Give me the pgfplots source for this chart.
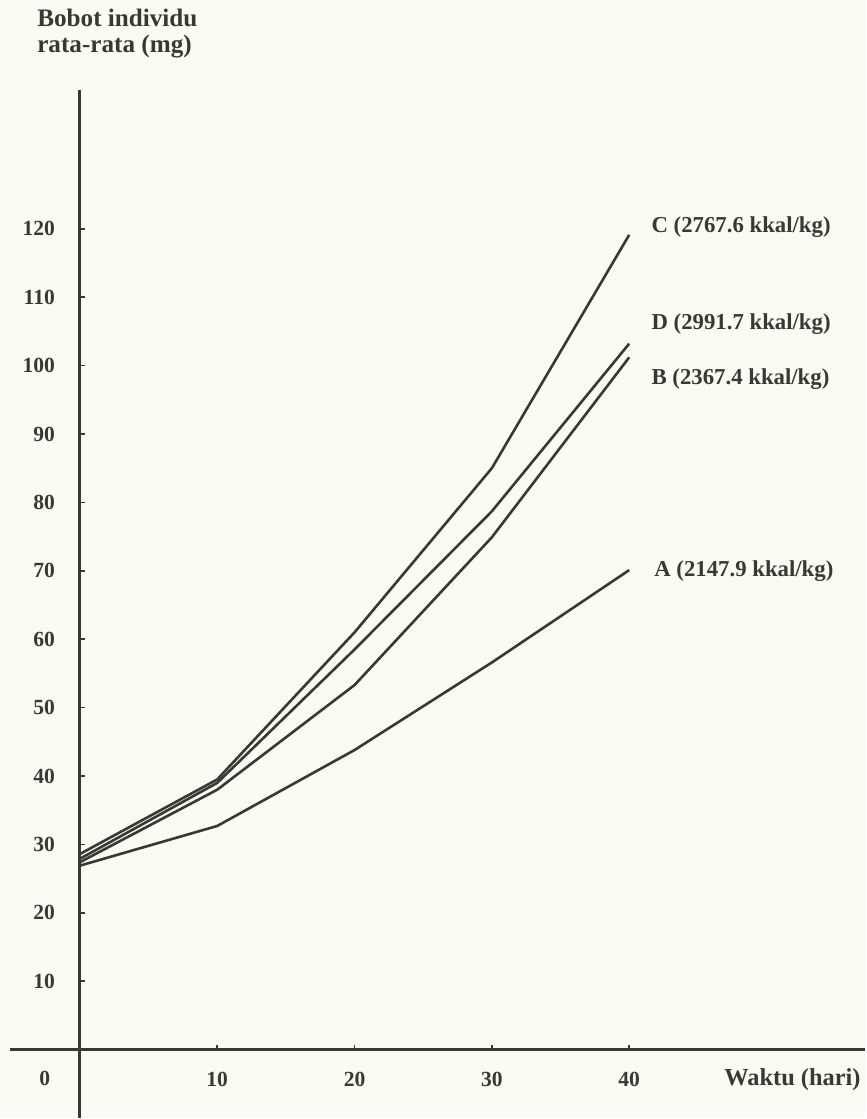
\documentclass[border=0pt]{standalone}
\usepackage{fontspec}
\setmainfont{Liberation Serif}
\usepackage{pgfplots}
\pgfplotsset{compat=1.18}
\definecolor{ink}{RGB}{55,57,52}
\definecolor{paper}{RGB}{251,251,246}
\begin{document}
\begin{tikzpicture}
\begin{axis}[
  scale only axis,
  width=433pt, height=559.5pt,
  xmin=-5.818, xmax=57.164,
  ymin=-9.927, ymax=153.43,
  axis lines=middle,
  axis line style={draw=none},
  axis background/.style={fill=paper},
  xtick={10,20,30,40}, ytick={10,20,...,120},
  /pgf/number format/assume math mode=true,
  tick align=inside,
  major tick length=2.5pt,
  tick style={ink, line width=0.8pt},
  ticklabel style={font=\fontsize{10.8}{12}\selectfont\bfseries, text=ink},
  xticklabel style={anchor=north, yshift=-7.5pt},
  yticklabel style={anchor=east, xshift=-9pt},
  clip=false,
]
\draw[ink, line width=1.4pt] (axis cs:-5.09,0) -- (axis cs:57.164,0);
\draw[ink, line width=1.4pt] (axis cs:0,-9.927) -- (axis cs:0,140.3);

\addplot[ink, line width=1.3pt] coordinates {(0,26.9) (10,32.7) (20,43.8) (30,56.6) (40,70.1)};
\addplot[ink, line width=1.3pt] coordinates {(0,27.4) (10,38.0) (20,53.3) (30,74.9) (40,101.2)};
\addplot[ink, line width=1.3pt] coordinates {(0,28.6) (10,39.5) (20,61.0) (30,85.0) (40,119.1)};
\addplot[ink, line width=1.3pt] coordinates {(0,27.9) (10,39.0) (20,58.5) (30,78.7) (40,103.2)};

\tikzset{lab/.style={anchor=base west, inner sep=0pt, text=ink, font=\fontsize{11.4}{13}\selectfont\bfseries}}
\node[lab, font=\fontsize{12.6}{14}\selectfont\bfseries] at (axis cs:-3.13,149.5) {Bobot individu};
\node[lab, font=\fontsize{12.6}{14}\selectfont\bfseries] at (axis cs:-3.13,145.7) {rata-rata (mg)};
\node[lab] at (axis cs:41.6,119.4) {C (2767.6 kkal/kg)};
\node[lab] at (axis cs:41.6,105.3) {D (2991.7 kkal/kg)};
\node[lab] at (axis cs:41.6,97.2) {B (2367.4 kkal/kg)};
\node[lab] at (axis cs:41.8,69.2) {A (2147.9 kkal/kg)};
\node[lab, anchor=base, font=\fontsize{10.8}{12}\selectfont\bfseries] at (axis cs:-2.55,-5.26) {0};
\node[lab, anchor=base east, font=\fontsize{12.2}{14}\selectfont\bfseries] at (axis cs:56.87,-5.26) {Waktu (hari)};
\end{axis}
\end{tikzpicture}
\end{document}
